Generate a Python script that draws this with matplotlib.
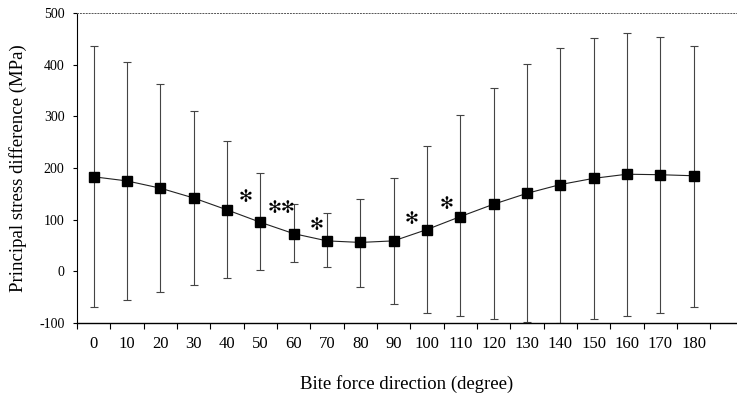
import matplotlib
matplotlib.use("Agg")
import matplotlib.pyplot as plt
import numpy as np

# bite force direction (degree) and principal stress difference (MPa)
directions = [0, 10, 20, 30, 40, 50, 60, 70, 80, 90, 100, 110, 120, 130, 140, 150, 160, 170, 180]
mean = [183, 175, 161, 142, 119, 95, 73, 59, 56, 59, 81, 106, 130, 151, 168, 180, 188, 187, 185]
upper = [437, 406, 362, 311, 252, 191, 131, 113, 140, 181, 242, 302, 355, 401, 433, 452, 461, 454, 437]
lower = [-69, -55, -40, -27, -12, 3, 19, 8, -31, -64, -80, -86, -92, -98, -100, -92, -86, -80, -69]

# significance marks: (category position between directions, value, text)
sig_x = [4.57, 5.65, 6.68, 9.53, 10.6]
sig_y = [144, 123, 90, 102, 131]
sig_txt = ["✻", "✻✻", "✻", "✻", "✻"]

plt.rcParams["font.family"] = ["Liberation Serif", "DejaVu Serif"]
plt.rcParams["axes.unicode_minus"] = False

fig = plt.figure(figsize=(7.37, 3.93), dpi=100)
ax = fig.add_axes([0.1045, 0.178, 0.8955, 0.789])

pos = np.arange(len(directions))
m = np.array(mean)
yerr = [m - np.array(lower), np.array(upper) - m]
ax.errorbar(pos, m, yerr=yerr, fmt="none", ecolor="#444444", elinewidth=0.8,
            capsize=3, capthick=0.8)
ax.plot(pos, m, color="#222222", lw=0.8, marker="s", ms=7, mfc="black", mec="black")

for x, y, t in zip(sig_x, sig_y, sig_txt):
    ax.text(x, y, t, ha="center", va="center", fontsize=12, family="DejaVu Sans")

ax.set_xlim(-0.5, 19.3)
ax.set_ylim(-100, 500)
ax.set_yticks(range(-100, 501, 100))
ax.set_xticks(pos)
ax.set_xticklabels([str(d) for d in directions], fontsize=12)
ax.set_xticks(np.arange(-0.5, 19.5, 1), minor=True)
ax.tick_params(axis="x", which="major", length=0, pad=9)
ax.tick_params(axis="x", which="minor", length=4, direction="out", width=0.8)
ax.tick_params(axis="y", labelsize=10, length=3, direction="out", width=0.8, pad=6)

ax.spines["right"].set_visible(False)
ax.spines["top"].set_linestyle((0, (1, 2)))
ax.spines["top"].set_linewidth(0.7)
ax.spines["top"].set_color("#555555")
ax.spines["left"].set_linestyle((0, (2, 1)))
ax.spines["left"].set_linewidth(0.8)
ax.spines["bottom"].set_linewidth(1.0)

ax.set_xlabel("Bite force direction (degree)", fontsize=13.5, labelpad=17)
ax.set_ylabel("Principal stress difference (MPa)", fontsize=13.5, labelpad=9)

fig.savefig("out.png", dpi=100)
